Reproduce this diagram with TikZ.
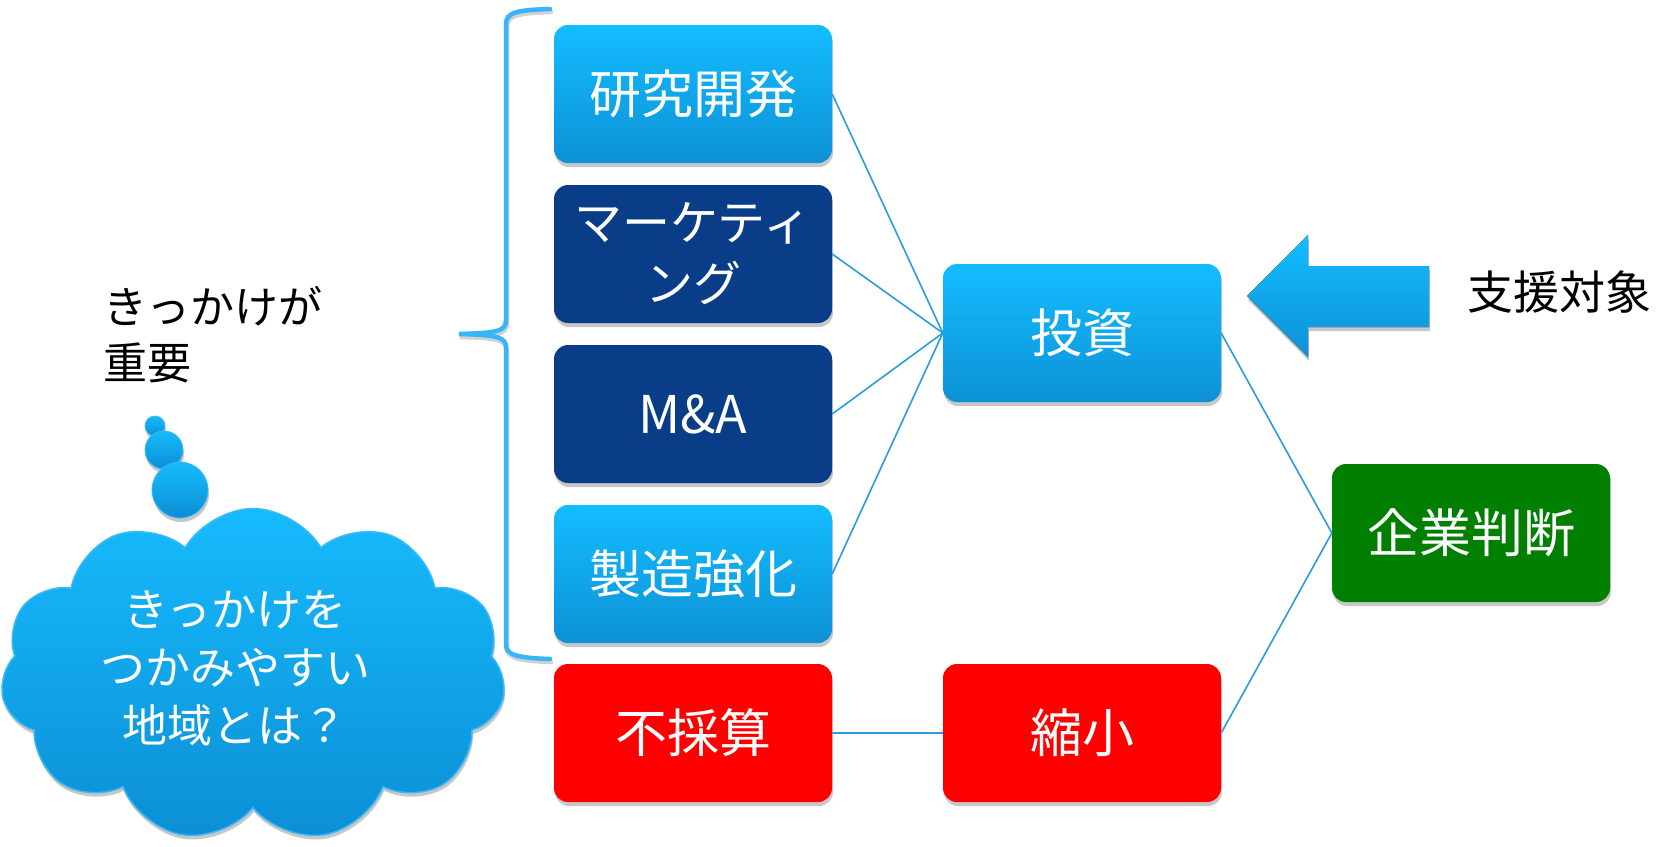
\documentclass[tikz,border=0pt]{standalone}
\usepackage{fontspec}
\setmainfont{Noto Sans CJK JP}
\usetikzlibrary{shapes.symbols,shadows}
\definecolor{bluetop}{HTML}{12BDFF}
\definecolor{bluebot}{HTML}{0E91D6}
\definecolor{navy}{HTML}{0A3D87}
\definecolor{okgreen}{HTML}{007F00}
\definecolor{linkblue}{HTML}{2A9CE0}
\definecolor{bracecol}{HTML}{36B5F8}
\definecolor{cloudtop}{HTML}{16BBFD}
\definecolor{cloudbot}{HTML}{0C8ED5}
\definecolor{cloudedge}{HTML}{3DB9F6}
\newcommand{\bracepath}{(550,9) .. controls (518,10) and (506,12) .. (506,24) -- (506,320)
  .. controls (506,331) and (498,333) .. (459,334)
  .. controls (498,335) and (506,337) .. (506,348) -- (506,645)
  .. controls (506,655) and (518,658) .. (550,659)}
\begin{document}
\begin{tikzpicture}[x=1pt,y=-1pt,
  softshadow/.style={drop shadow={shadow xshift=1pt, shadow yshift=-4pt, opacity=0.22, fill=black}},
  box/.style={rounded corners=14pt, minimum width=278pt, minimum height=138pt, text=white,
    inner sep=0pt, align=center, font=\fontsize{52}{62}\selectfont, softshadow},
  bluebox/.style={box, top color=bluetop, bottom color=bluebot},
  navybox/.style={box, fill=navy},
  redbox/.style={box, fill=red},
  greenbox/.style={box, fill=okgreen},
  link/.style={draw=linkblue, line width=1.6pt},
  blacktext/.style={text=black, align=left, font=\fontsize{44}{56}\selectfont, inner sep=0pt},
  bubble/.style={circle, inner sep=0pt, top color=cloudtop, bottom color=cloudbot, draw=cloudedge, line width=0.8pt, softshadow}
]
\useasboundingbox (0,0) rectangle (1661,846);
\fill[white] (0,0) rectangle (1661,846);

% thought bubbles and cloud
\node[bubble, minimum size=20pt] (b1) at (155,426) {};
\node[bubble, minimum size=38pt] (b2) at (164,450) {};
\node[bubble, minimum size=56pt] (b3) at (180,490) {};
\node[cloud, cloud puffs=11, cloud puff arc=120, cloud ignores aspect,
      minimum width=505pt, minimum height=333pt, inner sep=0pt,
      top color=cloudtop, bottom color=cloudbot, draw=cloudedge, line width=1.5pt, softshadow]
      (cloud) at (253,675) {};
\node[text=white, align=center, inner sep=0pt, font=\fontsize{45}{58}\selectfont]
      (cloudtext) at (235,668) {きっかけを\\つかみやすい\\地域とは？};

% black texts
\node[blacktext] (kikkake) at (213,335) {きっかけが\\重要};
\node[blacktext, font=\fontsize{46}{56}\selectfont, anchor=west] (shien) at (1467,292) {支援対象};

% brace
\draw[black, opacity=0.18, line width=4.5pt, line cap=round, shift={(1,3)}] \bracepath;
\draw[bracecol, line width=4.5pt, line cap=round] \bracepath;

% arrow
\fill[top color=bluetop, bottom color=bluebot, softshadow]
  (1247,296) -- (1308,235) -- (1308,266) -- (1429,266) -- (1429,327) -- (1308,327) -- (1308,357) -- cycle;

% boxes
\node[bluebox] (kenkyu) at (693,94) {研究開発};
\node[navybox, font=\fontsize{48}{61}\selectfont] (marke) at (693,254) {マーケティ\\ング};
\node[navybox, font=\fontsize{52}{62}\selectfont] (ma) at (693,414) {M\&A};
\node[bluebox] (seizo) at (693,574) {製造強化};
\node[redbox] (fusai) at (693,733) {不採算};
\node[bluebox] (toshi) at (1082,333) {投資};
\node[redbox] (shuku) at (1082,733) {縮小};
\node[greenbox] (kigyo) at (1471,533) {企業判断};

% connectors
\draw[link] (kenkyu.east) -- (toshi.west);
\draw[link] (marke.east) -- (toshi.west);
\draw[link] (ma.east) -- (toshi.west);
\draw[link] (seizo.east) -- (toshi.west);
\draw[link] (fusai.east) -- (shuku.west);
\draw[link] (toshi.east) -- (kigyo.west);
\draw[link] (shuku.east) -- (kigyo.west);
\end{tikzpicture}
\end{document}
